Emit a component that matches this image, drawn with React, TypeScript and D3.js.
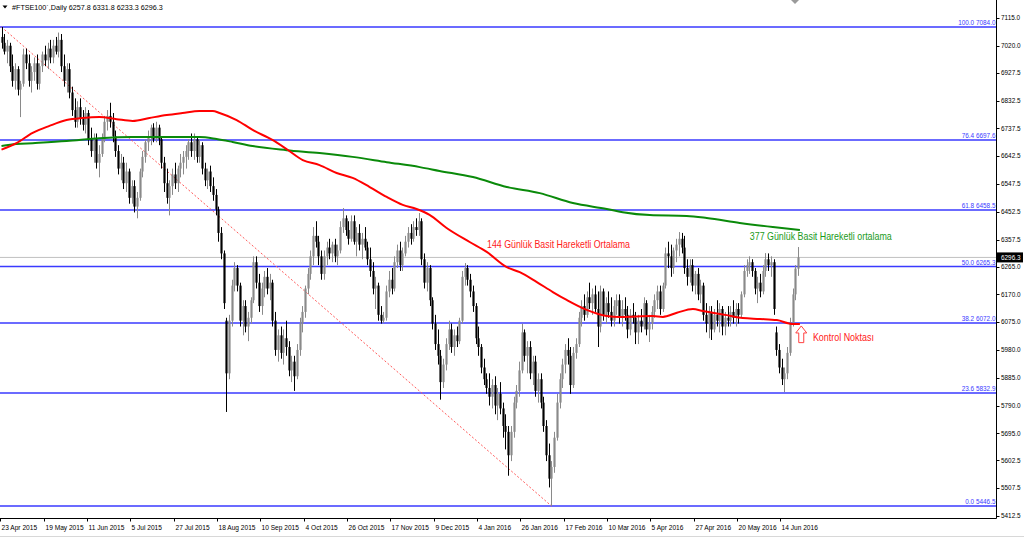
import React from "react";
import * as d3 from "d3";

const opens = [
7050,7030,7000,7020,6950,6900,6940,6870,6890,6990,
6960,6900,6930,6960,6890,6950,6990,6970,7010,6980,
7020,7000,7040,6950,6900,6940,6860,6800,6760,6810,
6770,6750,6790,6700,6660,6700,6620,6650,6700,6760,
6780,6760,6710,6660,6600,6620,6550,6590,6500,6540,
6470,6500,6590,6640,6690,6710,6740,6700,6740,6700,
6620,6550,6500,6540,6580,6550,6600,6620,6640,6660,
6690,6660,6700,6640,6680,6600,6560,6590,6540,6510,
6460,6380,6310,6080,5900,6080,6200,6260,6200,6080,
6130,6060,6090,6150,6280,6210,6130,6190,6230,6190,
6210,6080,5980,6030,5970,6020,5990,5910,5940,5890,
5980,6070,6110,6190,6240,6300,6370,6350,6300,6240,
6300,6330,6310,6340,6300,6320,6400,6430,6390,6360,
6420,6350,6380,6340,6360,6330,6290,6250,6190,6200,
6100,6080,6090,6180,6220,6190,6280,6320,6270,6310,
6350,6380,6360,6400,6390,6420,6290,6210,6260,6150,
6070,6000,5960,5870,5930,6000,6050,5990,6030,6010,
6080,6230,6260,6220,6180,6130,6020,5990,5920,5880,
5850,5820,5860,5790,5830,5780,5720,5700,5620,5700,
5800,5840,5910,6040,5960,5990,5900,5940,5840,5880,
5800,5720,5620,5540,5580,5680,5800,5880,5930,5980,
5960,5860,5970,6000,6090,6130,6100,6160,6140,6170,
6120,6060,6180,6100,6140,6110,6080,6130,6150,6090,
6120,6100,6050,6100,6090,6040,6080,6060,6140,6050,
6070,6110,6150,6180,6120,6200,6310,6300,6260,6320,
6340,6360,6330,6260,6230,6270,6200,6240,6170,6200,
6100,6070,6110,6050,6100,6080,6120,6060,6090,6080,
6110,6090,6120,6100,6170,6250,6270,6280,6250,6190,
6210,6180,6250,6290,6270,6280,6040,5980,5920,5880,
5900,5970,6070,6170,6257.8
];
const highs = [
7084,7060,7040,7030,6990,6960,6950,6900,7010,7010,
6990,6950,6980,6990,6960,7000,7020,7030,7040,7040,
7050,7065,7060,6990,6960,6960,6880,6840,6830,6840,
6800,6810,6800,6740,6720,6720,6680,6720,6780,6800,
6825,6790,6730,6680,6650,6640,6620,6600,6560,6560,
6520,6600,6660,6700,6730,6750,6755,6760,6750,6710,
6640,6600,6560,6600,6620,6610,6650,6660,6680,6700,
6720,6720,6710,6700,6690,6620,6600,6610,6570,6530,
6470,6400,6320,6090,6100,6220,6280,6270,6210,6150,
6150,6110,6160,6300,6300,6240,6210,6250,6260,6240,
6220,6110,6050,6060,6050,6080,6010,5960,5960,6000,
6090,6130,6200,6260,6320,6400,6420,6370,6320,6320,
6350,6360,6350,6360,6340,6420,6465,6440,6420,6440,
6440,6400,6410,6380,6400,6350,6330,6280,6230,6210,
6130,6110,6200,6250,6260,6300,6340,6350,6330,6370,
6400,6410,6420,6430,6448,6430,6310,6280,6270,6160,
6100,6050,5980,5950,6020,6080,6070,6050,6060,6090,
6250,6277,6270,6240,6200,6140,6060,6000,5950,5900,
5900,5880,5890,5850,5870,5800,5760,5720,5720,5820,
5860,5940,6070,6050,6010,6010,5960,5960,5900,5900,
5820,5740,5660,5600,5700,5830,5900,5950,6000,6020,
5990,5990,6020,6110,6150,6170,6180,6210,6190,6200,
6180,6200,6190,6160,6180,6160,6150,6170,6170,6150,
6160,6130,6120,6140,6110,6100,6120,6160,6150,6100,
6130,6170,6200,6200,6210,6330,6350,6340,6330,6360,
6383,6380,6370,6290,6290,6290,6250,6260,6220,6210,
6140,6130,6130,6120,6150,6140,6130,6110,6130,6130,
6150,6140,6140,6180,6270,6290,6300,6290,6260,6230,
6240,6270,6311,6310,6300,6290,6060,6000,5950,5920,
5990,6090,6190,6270,6331.8
];
const lows = [
7010,6990,6960,6930,6880,6870,6850,6776,6880,6940,
6880,6860,6900,6870,6870,6930,6950,6940,6960,6960,
6990,6980,6930,6880,6860,6840,6780,6740,6740,6750,
6730,6720,6680,6640,6620,6600,6570,6640,6690,6730,
6740,6690,6640,6580,6560,6530,6520,6480,6480,6450,
6430,6490,6570,6620,6660,6680,6690,6690,6680,6600,
6520,6480,6440,6510,6530,6520,6570,6580,6600,6630,
6640,6630,6620,6620,6580,6540,6530,6520,6490,6440,
6350,6290,6120,5768,5880,6060,6180,6180,6060,6030,
6040,6010,6070,6140,6190,6110,6100,6160,6170,6150,
6060,5960,5940,5950,5930,5960,5890,5870,5840,5880,
5960,6040,6090,6170,6220,6270,6330,6270,6220,6220,
6270,6290,6280,6280,6270,6310,6380,6370,6340,6350,
6340,6300,6320,6290,6320,6270,6230,6170,6120,6080,
6070,6072,6080,6160,6170,6180,6260,6250,6250,6300,
6330,6340,6350,6370,6370,6270,6190,6180,6130,6050,
5980,5930,5810,5850,5910,5980,5970,5960,5990,6000,
6070,6200,6200,6160,6110,6000,5960,5900,5860,5830,
5790,5780,5760,5740,5760,5680,5640,5550,5600,5680,
5780,5820,5900,5940,5900,5880,5860,5820,5800,5780,
5700,5600,5510,5446.5,5560,5670,5780,5850,5900,5930,
5830,5850,5950,5990,6060,6080,6090,6120,6100,6110,
5990,6040,6080,6070,6090,6060,6060,6100,6070,6060,
6080,6020,6030,6070,6000,6000,6040,6050,6030,6007,
6050,6090,6120,6100,6110,6190,6260,6230,6240,6280,
6300,6310,6240,6200,6210,6180,6170,6150,6140,6080,
6040,6020,6014,6040,6060,6040,6030,6030,6060,6060,
6070,6060,6070,6090,6160,6230,6240,6230,6170,6140,
6160,6170,6230,6250,6230,6100,5960,5900,5860,5836,
5880,5960,6060,6150,6233.3
];
const closes = [
7030,7000,7020,6950,6900,6940,6870,6890,6990,6960,
6900,6930,6960,6890,6950,6990,6970,7010,6980,7020,
7000,7040,6950,6900,6940,6860,6800,6760,6810,6770,
6750,6790,6700,6660,6700,6620,6650,6700,6760,6780,
6760,6710,6660,6600,6620,6550,6590,6500,6540,6470,
6500,6590,6640,6690,6710,6740,6700,6740,6700,6620,
6550,6500,6540,6580,6550,6600,6620,6640,6660,6690,
6660,6700,6640,6680,6600,6560,6590,6540,6510,6460,
6380,6310,6140,5900,6080,6200,6260,6200,6080,6130,
6060,6090,6150,6280,6210,6130,6190,6230,6190,6210,
6080,5980,6030,5970,6020,5990,5910,5940,5890,5980,
6070,6110,6190,6240,6300,6370,6350,6300,6240,6300,
6330,6310,6340,6300,6320,6400,6430,6390,6360,6420,
6350,6380,6340,6360,6330,6290,6250,6190,6200,6100,
6080,6090,6180,6220,6190,6280,6320,6270,6310,6350,
6380,6360,6400,6390,6420,6290,6210,6260,6150,6070,
6000,5960,5870,5930,6000,6050,5990,6030,6010,6080,
6230,6260,6220,6180,6130,6020,5990,5920,5880,5850,
5820,5860,5790,5830,5780,5720,5700,5620,5700,5800,
5840,5910,6040,5960,5990,5900,5940,5840,5880,5800,
5720,5620,5540,5580,5680,5800,5880,5930,5980,5960,
5860,5970,6000,6090,6130,6100,6160,6140,6170,6120,
6060,6180,6100,6140,6110,6080,6130,6150,6090,6120,
6100,6050,6100,6090,6040,6080,6060,6140,6050,6070,
6110,6150,6180,6120,6200,6310,6300,6260,6320,6340,
6360,6330,6260,6230,6270,6200,6240,6170,6200,6100,
6070,6110,6050,6100,6080,6120,6060,6090,6080,6110,
6090,6120,6100,6170,6250,6270,6280,6250,6190,6210,
6180,6250,6290,6270,6280,6120,5980,5920,5880,5900,
5970,6070,6170,6258,6296.3
];

// 144-day simple moving average: [bar index, value]
const ma144: [number, number][] = [
[0,6665],[5.5,6687],[11.5,6722],[17.7,6746],[24,6766],[30,6773],[36.2,6776],
[42.5,6769],[48.4,6763],[54.6,6773],[61,6783],[66.8,6790],[73.1,6797],[78,6797],
[80.5,6790],[86.8,6766],[92.7,6732],[100,6698],[105.2,6667],[111.2,6629],
[117.4,6612],[123.7,6585],[129.6,6568],[135.9,6537],[142.2,6503],[148.1,6476],
[153.2,6462],[158,6442],[164.3,6397],[172.8,6349],[179.1,6315],[186.5,6263],
[191.3,6246],[197.6,6212],[203.5,6178],[208.6,6151],[216,6117],[223.4,6096],
[228.2,6093],[240.4,6096],[244.1,6093],[249.3,6107],[255.2,6120],[258.9,6113],
[267.7,6099],[273.6,6089],[279.9,6086],[286.2,6082],[292.1,6069],[294.7,6069]
];
// 377-day simple moving average
const ma377: [number, number][] = [
[0,6677],[5.5,6684],[11.5,6687],[24,6694],[36.2,6704],[48.4,6708],[61,6708],
[73.1,6708],[79.4,6701],[85.3,6691],[92.7,6677],[105.2,6663],[117.4,6653],
[129.6,6640],[142.2,6622],[154.4,6605],[161.7,6592],[174,6571],[186.5,6537],
[198.7,6516],[210.9,6482],[223.4,6462],[229.3,6451],[239.3,6441],[252.9,6438],
[260.3,6431],[272.5,6414],[284.7,6400],[294.7,6390]
];

const fibLevels = [7084.0, 6697.6, 6458.5, 6265.3, 6072.0, 5832.9, 5446.5];
const fibPercents = ["100.0", "76.4", "61.8", "50.0", "38.2", "23.6", "0.0"];

const priceTicks = [7115.0, 7020.0, 6927.5, 6832.5, 6737.5, 6642.5, 6547.5, 6452.5, 6357.5,
  6265.0, 6170.0, 6075.0, 5980.0, 5885.0, 5790.0, 5695.0, 5602.5, 5507.5, 5412.5];

const dateLabels = ["23 Apr 2015", "19 May 2015", "11 Jun 2015", "5 Jul 2015", "27 Jul 2015",
  "18 Aug 2015", "10 Sep 2015", "4 Oct 2015", "26 Oct 2015", "17 Nov 2015", "9 Dec 2015",
  "4 Jan 2016", "26 Jan 2016", "17 Feb 2016", "10 Mar 2016", "5 Apr 2016", "27 Apr 2016",
  "20 May 2016", "14 Jun 2016"];
const dateLabelBars = [0, 16, 32, 48, 64, 80, 96, 112, 128, 144, 160, 176, 192, 208, 224, 240, 256, 272, 288];

const header = "#FTSE100`,Daily  6257.8 6331.8 6233.3 6296.3";
const lastPrice = 6296.3;

// trend line from the swing high to the swing low
const trendFrom: [number, number] = [0, 7084];
const trendTo: [number, number] = [203, 5446.5];

// annotations, anchored in data space: [bar, price]
const noteMA144 = { text: "144 Günlük Basit Hareketli Ortalama", at: [179.2, 6330] as [number, number] };
const noteMA377 = { text: "377 Günlük Basit Hareketli ortalama", at: [276.2, 6357] as [number, number] };
const noteKontrol = { text: "Kontrol Noktası", at: [299.5, 6012] as [number, number] };
const arrowAt = { bar: 295.2, top: 6062, bottom: 6005 };

export default function App() {
  const W = 1024, H = 538;
  const axisX = 996.5;
  const axisY = 518.5;
  const y = d3.scaleLinear().domain([5446.5, 7084]).range([506, 27]);
  const x = d3.scaleLinear().domain([0, 294]).range([1.5, 798]);
  const bw = x(1) - x(0);

  const line = d3.line<[number, number]>()
    .x(d => x(d[0]))
    .y(d => y(d[1]))
    .curve(d3.curveMonotoneX);

  const font = "'Liberation Sans', Arial, sans-serif";

  const ax = x(arrowAt.bar);
  const at = y(arrowAt.top);
  const ab = y(arrowAt.bottom);
  const arrowPath = `M${ax},${at} L${ax + 5.5},${at + 7} L${ax + 2.5},${at + 7} L${ax + 2.5},${ab} L${ax - 2.5},${ab} L${ax - 2.5},${at + 7} L${ax - 5.5},${at + 7} Z`;

  return (
    <svg width={W} height={H} style={{ position: "absolute", left: 0, top: 0, background: "#fff" }}
      fontFamily={font}>
      <rect x={0} y={0} width={W} height={H} fill="#fff" />
      {/* current price line */}
      <line x1={0} x2={axisX} y1={y(lastPrice)} y2={y(lastPrice)} stroke="#c0c0c0" strokeWidth={1} />
      {/* fibonacci levels */}
      {fibLevels.map((v, i) => (
        <g key={"f" + i}>
          <line x1={0} x2={axisX} y1={y(v)} y2={y(v)} stroke="#3a3aff" strokeWidth={1.4} />
          <text x={axisX - 1} y={y(v) - 1.8} fontSize={6.4} fill="#3a3aff" textAnchor="end">
            {fibPercents[i] + " " + v.toFixed(1)}
          </text>
        </g>
      ))}
      {/* trend line */}
      <line x1={x(trendFrom[0])} y1={y(trendFrom[1])} x2={x(trendTo[0])} y2={y(trendTo[1])}
        stroke="#ff5a5a" strokeWidth={1} strokeDasharray="2,2" />
      {/* candles */}
      {closes.map((c, i) => {
        const o = opens[i], h = highs[i], l = lows[i];
        const bull = c >= o;
        const col = bull ? "#8a8a8a" : "#000";
        const cx = Math.round(x(i)) + 0.5;
        const top = y(Math.max(o, c)), bot = y(Math.min(o, c));
        return (
          <g key={"c" + i}>
            <line x1={cx} x2={cx} y1={y(h)} y2={y(l)} stroke={col} strokeWidth={1} />
            <rect x={cx - bw * 0.4} y={top} width={bw * 0.8} height={Math.max(1, bot - top)} fill={col} />
          </g>
        );
      })}
      {/* moving averages */}
      <path d={line(ma377) || ""} fill="none" stroke="#0a8a0a" strokeWidth={2} />
      <path d={line(ma144) || ""} fill="none" stroke="#ff0000" strokeWidth={2} />
      {/* annotations */}
      <text x={x(noteMA144.at[0])} y={y(noteMA144.at[1])} fontSize={10.5} fill="#ff2020"
        textLength={143} lengthAdjust="spacingAndGlyphs">{noteMA144.text}</text>
      <text x={x(noteMA377.at[0])} y={y(noteMA377.at[1])} fontSize={10.5} fill="#1a9a1a"
        textLength={142} lengthAdjust="spacingAndGlyphs">{noteMA377.text}</text>
      <text x={x(noteKontrol.at[0])} y={y(noteKontrol.at[1])} fontSize={10.5} fill="#ff2020"
        textLength={61} lengthAdjust="spacingAndGlyphs">{noteKontrol.text}</text>
      <path d={arrowPath} fill="#fff" stroke="#ff4040" strokeWidth={1} />
      {/* axes */}
      <line x1={axisX} x2={axisX} y1={0} y2={axisY} stroke="#000" strokeWidth={1} />
      <line x1={0} x2={axisX} y1={axisY} y2={axisY} stroke="#000" strokeWidth={1} />
      <line x1={0} x2={W} y1={536.5} y2={536.5} stroke="#d8d8d8" strokeWidth={1} />
      {priceTicks.map((v, i) => (
        <g key={"t" + i}>
          <line x1={axisX} x2={axisX + 3} y1={Math.round(y(v)) + 0.5} y2={Math.round(y(v)) + 0.5} stroke="#000" />
          <text x={1001} y={y(v) + 2.3} fontSize={6.4} fill="#000">{v.toFixed(1)}</text>
        </g>
      ))}
      {dateLabelBars.map((b, i) => {
        const tx = Math.round(x(b) - 1.3) + 0.5;
        return (
          <g key={"d" + i}>
            <line x1={tx} x2={tx} y1={axisY} y2={axisY + 3} stroke="#000" />
            <text x={Math.max(0, tx + 1)} y={529.5} fontSize={6.6} fill="#000">{dateLabels[i]}</text>
          </g>
        );
      })}
      {/* last price tag */}
      <rect x={997} y={y(lastPrice) - 5} width={26} height={10} fill="#000" />
      <text x={1001} y={y(lastPrice) + 2.3} fontSize={6.4} fill="#fff">{lastPrice.toFixed(1)}</text>
      {/* header */}
      <path d="M2.5,5.5 L7.5,5.5 L5,8.5 Z" fill="#000" />
      <text x={12} y={9.5} fontSize={7.2} fill="#000">{header}</text>
      <path d="M791,0 L799,0 L795,4 Z" fill="#9a9a9a" />
    </svg>
  );
}
